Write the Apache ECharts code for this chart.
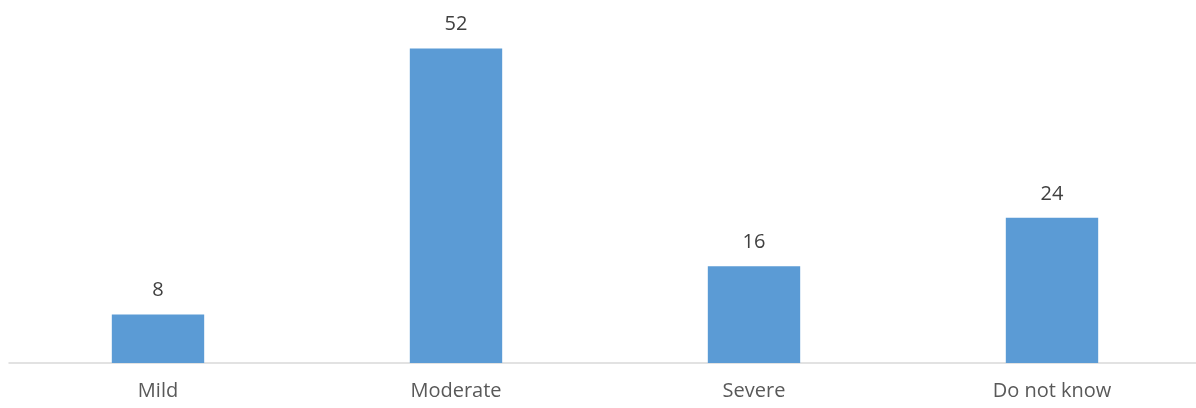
<!DOCTYPE html>
<html>
<head>
<meta charset="utf-8">
<script src="https://cdn.jsdelivr.net/npm/echarts@6/dist/echarts.min.js"></script>
<style>
  html, body { margin: 0; padding: 0; background: #fff; overflow: hidden; }
  /* slightly wider than the window so the last category lands where the original has it */
  #chart { width: 1201px; height: 408px; }
</style>
</head>
<body>
<div id="chart"></div>
<script>
// categories and values
const categories = ['Mild', 'Moderate', 'Severe', 'Do not know']
const values = [8, 52, 16, 24]

const chart = echarts.init(document.getElementById('chart'))

const option = {
  backgroundColor: '#FFFFFF',
  animation: false,
  textStyle: { fontFamily: '"Open Sans", sans-serif' },
  grid: {
    left: 9,
    right: 0,
    top: -1,
    bottom: 45,
  },
  xAxis: {
    type: 'category',
    data: categories,
    axisTick: { show: false },
    axisLine: {
      lineStyle: { color: '#d9d9d9', width: 1.5 },
    },
    axisLabel: {
      color: '#595959',
      fontSize: 20,
      margin: 18,
    },
  },
  yAxis: {
    type: 'value',
    min: 0,
    max: 60,
    show: false,
    splitLine: { show: false },
  },
  series: [
    {
      type: 'bar',
      data: values,
      barWidth: '31%',
      itemStyle: { color: '#5B9BD5' },
      label: {
        show: true,
        position: 'top',
        distance: 14,
        color: '#404040',
        fontSize: 20,
      },
    },
  ],
}

chart.setOption(option)
</script>
</body>
</html>
